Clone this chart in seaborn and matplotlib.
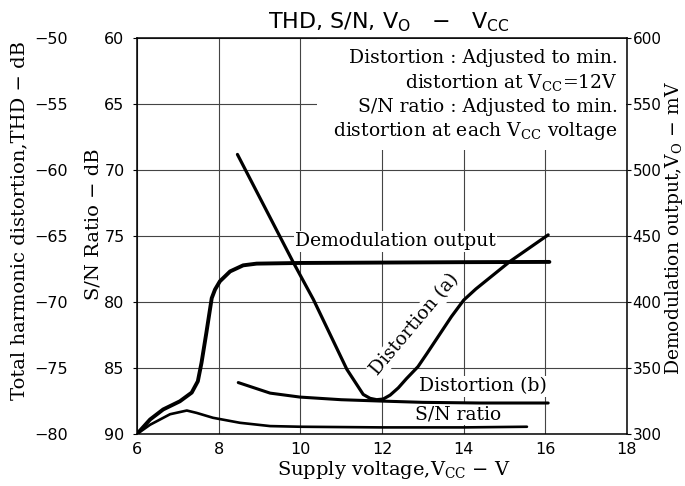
import matplotlib
matplotlib.use("Agg")
import matplotlib.pyplot as plt
import seaborn as sns
from matplotlib.patches import Rectangle

# Valores (eixo x = tensao de alimentacao V_CC em V)
volt_demod = [6.0, 6.32, 6.64, 7.05, 7.34, 7.49, 7.58, 7.70, 7.83, 7.91, 8.03, 8.28, 8.60, 8.93, 10.0, 12.0, 14.0, 16.1]
demod_mv = [300, 311, 318.6, 324.8, 331.4, 340, 354, 377, 403, 409.5, 415.8, 423.3, 427.9, 429.2, 429.7, 430, 430.3, 430.5]

volt_sn = [6.0, 6.32, 6.81, 7.22, 7.46, 7.86, 8.52, 9.26, 10.0, 12.0, 14.0, 15.55]
sn_db = [90.0, 89.3, 88.5, 88.22, 88.4, 88.77, 89.15, 89.4, 89.45, 89.5, 89.5, 89.45]

volt_dist_a = [8.46, 9.83, 10.32, 11.14, 11.54, 11.71, 11.87, 12.03, 12.2, 12.4, 12.6, 12.88,
               13.1, 13.4, 13.7, 14.0, 14.3, 14.7, 15.14, 16.07]
thd_a = [-58.8, -67.0, -69.8, -75.1, -77.0, -77.3, -77.4, -77.35, -77.05, -76.5, -75.8, -74.9,
         -73.9, -72.5, -71.1, -69.85, -69.0, -68.0, -66.9, -64.9]

volt_dist_b = [8.48, 9.26, 9.99, 11.0, 11.95, 13.0, 14.4, 16.07]
thd_b = [-76.1, -76.9, -77.2, -77.4, -77.5, -77.6, -77.65, -77.65]

x_ticks = [6, 8, 10, 12, 14, 16, 18]
sn_ticks = [60, 65, 70, 75, 80, 85, 90]
thd_ticks = [-50, -55, -60, -65, -70, -75, -80]
mv_ticks = [300, 350, 400, 450, 500, 550, 600]

notes = [
    "Distortion : Adjusted to min.",
    r"distortion at V$_{\mathrm{CC}}$=12V",
    "S/N ratio : Adjusted to min.",
    r"distortion at each V$_{\mathrm{CC}}$ voltage",
]

sns.set_style("white")
plt.rcParams["font.family"] = ["DejaVu Sans"]
plt.rcParams["mathtext.fontset"] = "dejavuserif"
for k in ("text.color", "axes.labelcolor", "xtick.color", "ytick.color"):
    plt.rcParams[k] = "black"
serif = "DejaVu Serif"

fig = plt.figure(figsize=(6.85, 4.86), dpi=100)
fig.subplots_adjust(left=0.2, right=0.9153, bottom=0.107, top=0.921)
ax = fig.add_subplot(111)
ax_thd = ax.twinx()
ax_r = ax.twinx()

# curvas
sns.lineplot(x=volt_sn, y=sn_db, ax=ax, color="black", lw=1.9, zorder=2)
sns.lineplot(x=volt_dist_a, y=thd_a, ax=ax_thd, color="black", lw=2.3)
sns.lineplot(x=volt_dist_b, y=thd_b, ax=ax_thd, color="black", lw=2.2)
sns.lineplot(x=volt_demod, y=demod_mv, ax=ax_r, color="black", lw=2.8)

ax.set_xlim(6, 18)
ax.set_ylim(90, 60)
ax_thd.set_ylim(-80, -50)
ax_r.set_ylim(300, 600)

ax.set_xticks(x_ticks)
ax.set_yticks(sn_ticks)
ax_thd.set_yticks(thd_ticks)
ax_r.set_yticks(mv_ticks)

ax.grid(True, color="#444444", lw=0.8)
ax.set_axisbelow(True)
for s in ax.spines.values():
    s.set_visible(True)
    s.set_color("black")
    s.set_linewidth(1.1)
for a in (ax_thd, ax_r):
    for s in a.spines.values():
        s.set_visible(False)

ax.tick_params(axis="x", length=2, pad=3.5, labelsize=11.5)
ax.tick_params(axis="y", length=3, direction="out", pad=6, labelsize=11.5)
ax_r.tick_params(axis="y", length=3, direction="out", pad=1, labelsize=11)
ax_thd.yaxis.tick_left()
ax_thd.spines["left"].set_position(("outward", 42))
ax_thd.tick_params(axis="y", length=0, pad=8, labelsize=11.5)

for a in (ax, ax_thd, ax_r):
    a.set_xlabel("")
    a.set_ylabel("")

# caixa das notas (esconde a grade atras)
ax.add_patch(Rectangle((0.367, 0.718), 0.63, 0.28, transform=ax.transAxes,
                       facecolor="white", edgecolor="none", zorder=1))
for txt, yb in zip(notes, [61.86, 63.75, 65.6, 67.4]):
    ax.text(17.78, yb, txt, ha="right", va="baseline", family=serif,
            fontsize=13.5, zorder=1.5)

lbl = dict(family=serif, fontsize=13.5, zorder=1.5,
           bbox=dict(facecolor="white", edgecolor="none", pad=1))
ax.text(9.87, 75.4, "Demodulation output", ha="left", va="center", **lbl)
ax.text(12.8, 81.7, "Distortion (a)", ha="center", va="center",
        rotation=50, rotation_mode="anchor", **lbl)
ax.text(14.47, 86.4, "Distortion (b)", ha="center", va="center", **lbl)
ax.text(13.87, 88.5, "S/N ratio", ha="center", va="center", **lbl)

# titulos dos eixos
fig.text(0.568, 0.955, r"THD, S/N, V$_\mathrm{O}$   −   V$_\mathrm{CC}$",
         ha="center", va="center", fontsize=16, math_fontfamily="dejavusans")
fig.text(0.575, 0.033, r"Supply voltage,V$_\mathrm{CC}$ − V", ha="center",
         va="center", family=serif, fontsize=14)
fig.text(0.028, 0.547, "Total harmonic distortion,THD − dB", rotation=90,
         ha="center", va="center", family=serif, fontsize=14)
fig.text(0.136, 0.539, "S/N Ratio − dB", rotation=90, ha="center",
         va="center", family=serif, fontsize=14)
fig.text(0.984, 0.531, r"Demodulation output,V$_\mathrm{O}$ − mV", rotation=90,
         ha="center", va="center", family=serif, fontsize=13.5)

plt.savefig("out.png", dpi=100)
